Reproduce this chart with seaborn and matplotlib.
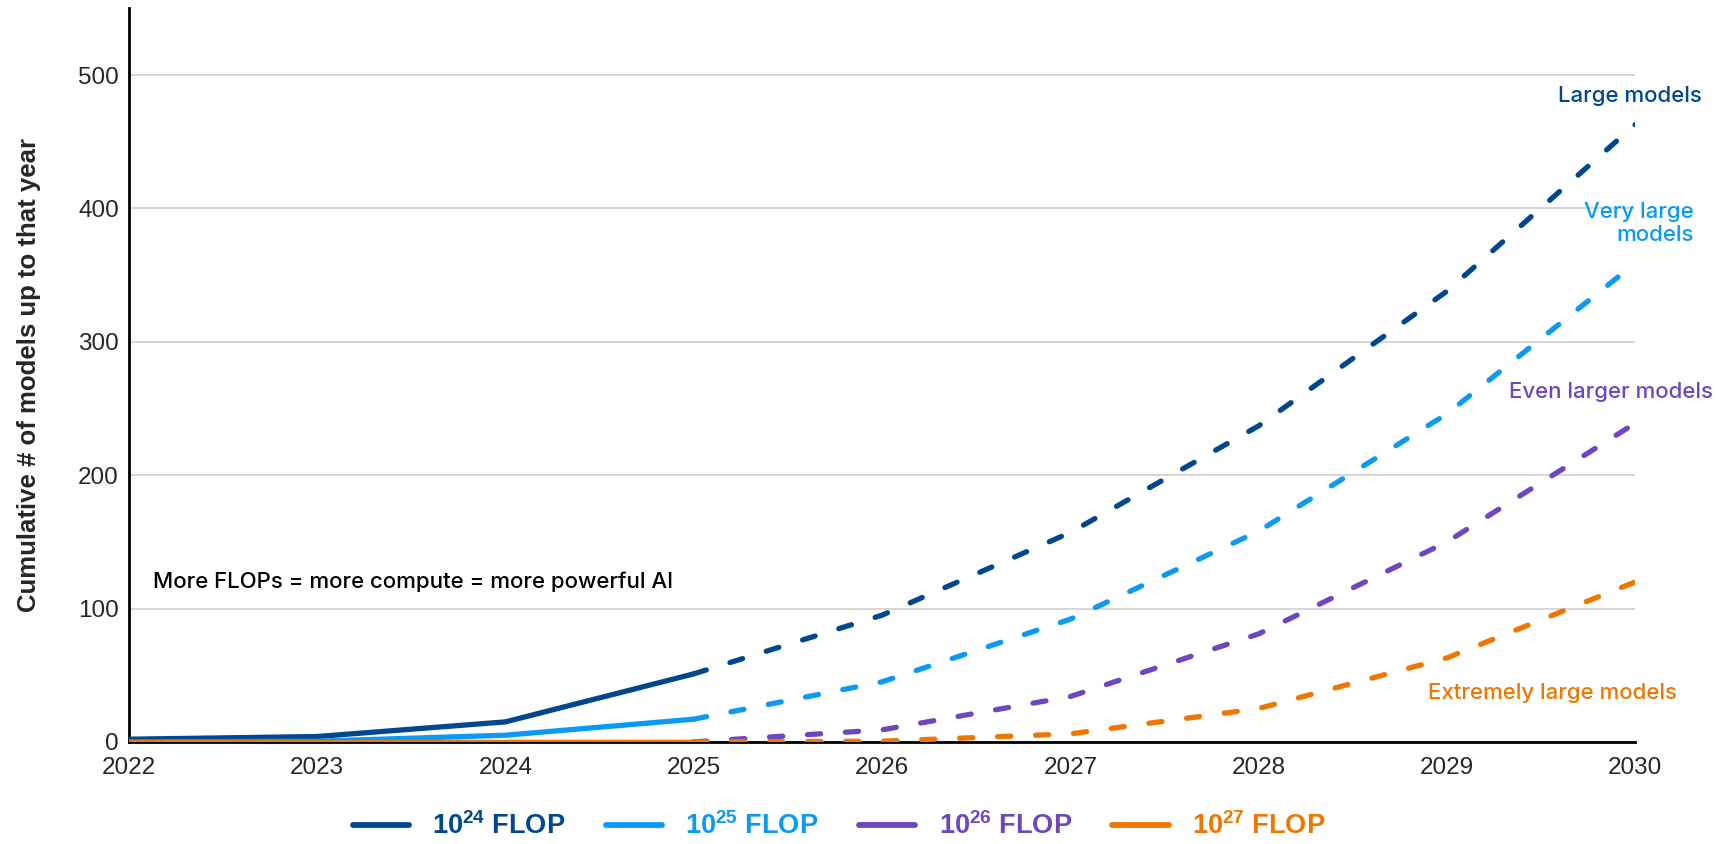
import matplotlib
matplotlib.use("Agg")
import matplotlib.pyplot as plt
from matplotlib.lines import Line2D
import seaborn as sns
import pandas as pd

years = [2022, 2023, 2024, 2025, 2026, 2027, 2028, 2029, 2030]
flop_1e24 = [2, 4, 15, 51, 95, 157, 237, 338, 463]
flop_1e25 = [0, 0.5, 5, 17, 45, 92, 158, 246, 359]
flop_1e26 = [0, 0, 0, 0, 9, 34, 81, 150, 239]
flop_1e27 = [0, 0, 0, 0, 0.5, 6, 25, 63, 120]

series_labels = [r"10$^{\mathbf{24}}$ FLOP", r"10$^{\mathbf{25}}$ FLOP",
                 r"10$^{\mathbf{26}}$ FLOP", r"10$^{\mathbf{27}}$ FLOP"]
end_labels = ["Large models", "Very large\nmodels", "Even larger models", "Extremely large models"]
colors = ["#00478F", "#0A9AF5", "#6E46C0", "#EF7600"]
last_actual_year = 2025

sns.set_theme(style="white")
plt.rcParams["font.family"] = ["Liberation Sans", "DejaVu Sans"]
plt.rcParams["mathtext.fontset"] = "custom"
plt.rcParams["mathtext.rm"] = "Liberation Sans"
plt.rcParams["mathtext.bf"] = "Liberation Sans:bold"

fig = plt.figure(figsize=(17.16, 8.44), dpi=100)
ax = fig.add_axes([0.075, 0.121, 0.878, 0.869])

all_series = [flop_1e24, flop_1e25, flop_1e26, flop_1e27]
for vals, color in zip(all_series, colors):
    df = pd.DataFrame({"year": years, "count": vals})
    actual = df[df["year"] <= last_actual_year]
    projected = df[df["year"] >= last_actual_year]
    sns.lineplot(data=actual, x="year", y="count", ax=ax, color=color,
                 linewidth=3.8, solid_capstyle="round", solid_joinstyle="round", zorder=3)
    sns.lineplot(data=projected, x="year", y="count", ax=ax, color=color,
                 linewidth=3.8, dashes=(2.5, 4.7), dash_capstyle="round", zorder=3)

ax.set_xlim(2022, 2030)
ax.set_ylim(0, 550)
ax.set_xticks(years)
ax.set_xticklabels([str(y) for y in years], fontsize=17.5)
ax.set_yticks([0, 100, 200, 300, 400, 500])
ax.set_yticklabels(["0", "100", "200", "300", "400", "500"], fontsize=17.5)
ax.yaxis.grid(True, color="#CCCCCC", linewidth=1.1)
ax.xaxis.grid(False)
ax.tick_params(axis="x", direction="out", length=8, width=2, color="black", pad=3)
ax.tick_params(axis="y", length=0, pad=7)
for side in ["top", "right"]:
    ax.spines[side].set_visible(False)
for side in ["left", "bottom"]:
    ax.spines[side].set_color("black")
    ax.spines[side].set_linewidth(2)
ax.set_xlabel("")
ax.set_ylabel("Cumulative # of models up to that year", fontsize=18.5, fontweight="bold",
              labelpad=27)

# end-of-line labels
label_pos = [(2030.355, 484), (2030.31, 389), (2030.41, 262), (2030.22, 37)]
for (x, y), text, color in zip(label_pos, end_labels, colors):
    ax.text(x, y, text, color=color, fontsize=16, ha="right", va="center", clip_on=False,
            family=["Inter", "DejaVu Sans"], fontweight="medium", linespacing=1.2)

ax.text(2022.13, 120, "More FLOPs = more compute = more powerful AI", fontsize=16,
        color="black", ha="left", va="center", family=["Inter", "DejaVu Sans"],
        fontweight="medium")

handles = [Line2D([0], [0], color=c, linewidth=4.2, solid_capstyle="round") for c in colors]
leg = fig.legend(handles, series_labels, loc="center", bbox_to_anchor=(0.489, 0.021),
                 ncol=4, frameon=False, handlelength=2.07, handletextpad=0.85,
                 columnspacing=1.5, labelcolor=colors,
                 prop={"weight": "bold", "size": 19.5})

fig.savefig("out.png", dpi=100)
